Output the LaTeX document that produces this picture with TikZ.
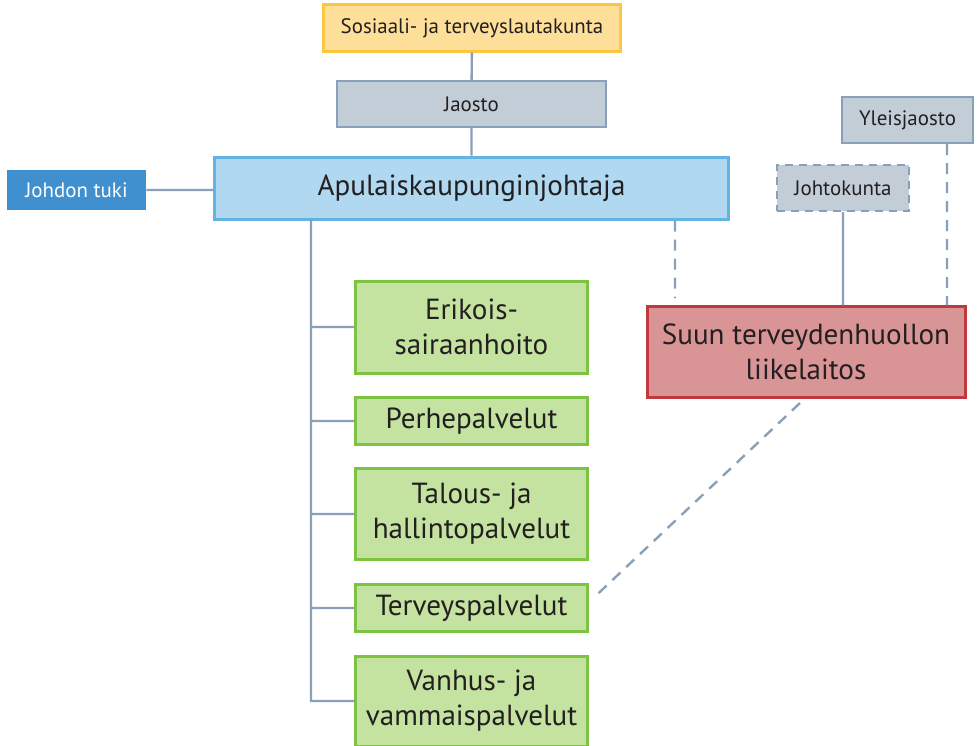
\documentclass[tikz,border=0pt]{standalone}
\usepackage{fontspec}
\setmainfont{PT Sans}
\usepackage{tikz}
\usetikzlibrary{calc,positioning}

\definecolor{linegray}{HTML}{8AA0B8}
\definecolor{textgray}{HTML}{231F20}
\definecolor{yelfill}{HTML}{FDDF99}
\definecolor{yeldraw}{HTML}{FDC640}
\definecolor{grayfill}{HTML}{C3CDD8}
\definecolor{blufill}{HTML}{B0D8F0}
\definecolor{bludraw}{HTML}{63B3E3}
\definecolor{darkblu}{HTML}{4090D0}
\definecolor{grnfill}{HTML}{C4E2A0}
\definecolor{grndraw}{HTML}{7DC242}
\definecolor{redfill}{HTML}{D99496}
\definecolor{reddraw}{HTML}{C0393F}

\begin{document}
\begin{tikzpicture}[x=0.5bp, y=-0.5bp,
	box/.style = {shape=rectangle, inner sep=0pt, align=center, text=textgray},
	smallbox/.style = {box, font=\fontsize{10.5}{13}\selectfont},
	bigbox/.style = {box, font=\fontsize{14.6}{17.5}\selectfont},
	graybox/.style = {smallbox, fill=grayfill, draw=linegray, line width=1.2bp},
	greenbox/.style = {bigbox, fill=grnfill, draw=grndraw, line width=1.5bp, minimum width=115.5bp},
	link/.style = {draw=linegray, line width=1.2bp},
	dashlink/.style = {link, dash pattern=on 5.5bp off 4bp}]
	\useasboundingbox (0,0) rectangle (977,746);

	\node(sos) at (472,28) [smallbox, fill=yelfill, draw=yeldraw, line width=1.5bp, minimum width=148bp, minimum height=23bp] {Sosiaali- ja terveyslautakunta};
	\node(jaosto) at (471.5,104) [graybox, minimum width=134.5bp, minimum height=23bp] {Jaosto};
	\node(apu) at (471.5,188) [bigbox, fill=blufill, draw=bludraw, line width=1.5bp, minimum width=256.5bp, minimum height=31bp] {Apulaiskaupunginjohtaja};
	\node(tuki) at (76.5,190) [smallbox, fill=darkblu, text=white, minimum width=69.5bp, minimum height=20bp] {Johdon tuki};

	\node(eri) at (471.5,327) [greenbox, minimum height=46bp] {Erikois-\\sairaanhoito};
	\node(perhe) at (471.5,421) [greenbox, minimum height=23.5bp] {Perhepalvelut};
	\node(talous) at (471.5,514) [greenbox, minimum height=45.5bp] {Talous- ja\\hallintopalvelut};
	\node(terveys) at (471.5,608) [greenbox, minimum height=23.5bp] {Terveyspalvelut};
	\node(vanhus) at (471.5,701) [greenbox, minimum height=45bp] {Vanhus- ja\\vammaispalvelut};

	\node(yleis) at (907.5,120) [graybox, minimum width=65.5bp, minimum height=23bp] {Yleisjaosto};
	\node(johto) at (843,188) [graybox, dash pattern=on 4bp off 3bp, minimum width=66bp, minimum height=23bp] {Johtokunta};
	\node(suun) at (806,352) [bigbox, fill=redfill, draw=reddraw, line width=1.5bp, minimum width=159bp, minimum height=45.5bp] {Suun terveydenhuollon\\liikelaitos};

	\coordinate(trunk) at (311,219);
	\coordinate(d1) at (675,0);
	\coordinate(d2) at (947,0);

	\path [link]
	(sos) -- (jaosto)
	(jaosto) -- (apu)
	(tuki.east) -- (tuki.east -| apu.west)
	(johto) -- (johto |- suun.north)
	(trunk) |- (eri.west)
	(trunk) |- (perhe.west)
	(trunk) |- (talous.west)
	(trunk) |- (terveys.west)
	(trunk) |- (vanhus.west);

	\path [dashlink]
	(apu.south -| d1) -- ($(suun.north -| d1)+(0,-7)$)
	(yleis.south -| d2) -- (suun.north -| d2)
	($(suun.south)+(-6,4)$) -- ($(terveys.east)+(6,-11)$);
\end{tikzpicture}
\end{document}
